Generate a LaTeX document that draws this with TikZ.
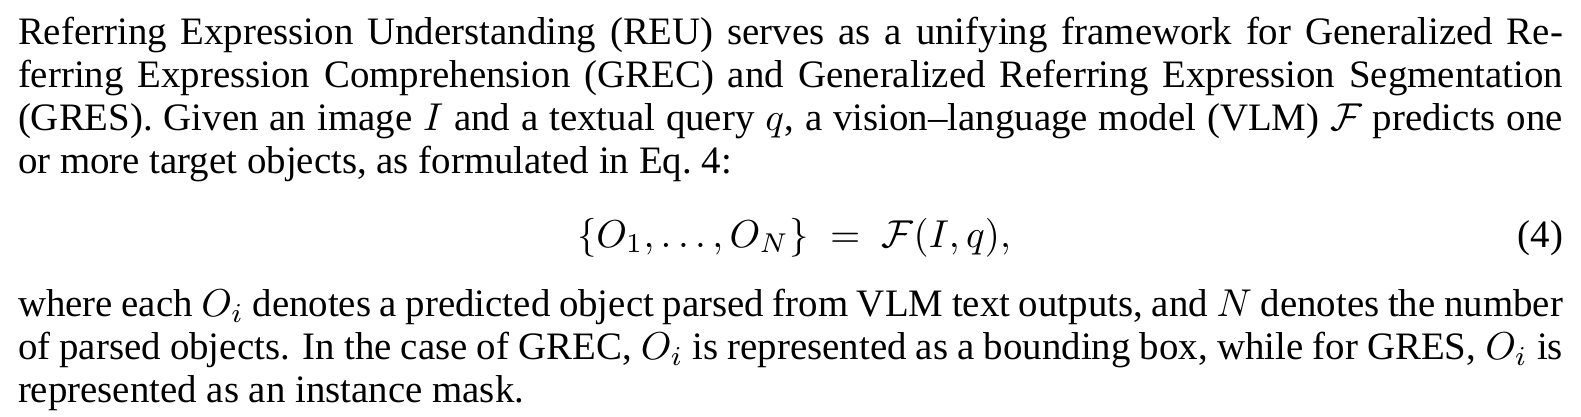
\documentclass[tikz,border=0pt]{standalone}
\usepackage[no-math]{fontspec}
\setmainfont{Liberation Serif}
\newcommand{\jline}[1]{\makebox[397.5pt][s]{#1}}
\tikzset{txt/.style={anchor=base west,inner sep=0pt,outer sep=0pt,font=\fontsize{10pt}{11pt}\selectfont}}
\begin{document}
\begin{tikzpicture}[x=0.2573pt,y=-0.2573pt]
\useasboundingbox (0,0) rectangle (1581,417);
\node[txt] (l1) at (18,45) {\jline{Referring Expression Understanding (REU) serves as a unifying framework for Generalized Re-}};
\node[txt] (l2) at (18,87.75) {\jline{ferring Expression Comprehension (GREC) and Generalized Referring Expression Segmentation}};
\node[txt] (l3) at (18,130.5) {\jline{(GRES). Given an image $I$ and a textual query $q$, a vision--language model (VLM) $\mathcal{F}$ predicts one}};
\node[txt] (l4) at (18,173.25) {or more target objects, as formulated in Eq.~4:};
\node[txt] (eq) at (577,247) {$\{O_1,\dots,O_N\}\;=\;\mathcal{F}(I,q),$};
\node[txt,anchor=base east] (eqn) at (1563,247) {(4)};
\node[txt] (l5) at (18,317) {\jline{where each $O_i$ denotes a predicted object parsed from VLM text outputs, and $N$ denotes the number}};
\node[txt] (l6) at (18,359.75) {\jline{of parsed objects. In the case of GREC, $O_i$ is represented as a bounding box, while for GRES, $O_i$ is}};
\node[txt] (l7) at (18,402.5) {represented as an instance mask.};
\end{tikzpicture}
\end{document}
